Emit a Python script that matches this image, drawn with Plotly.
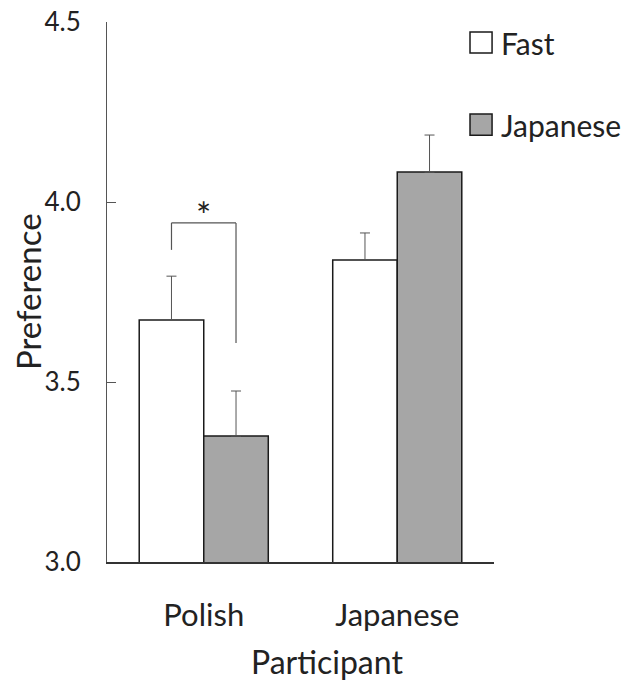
import plotly.graph_objects as go

categories = ["Polish", "Japanese"]
fast_means = [3.672, 3.839]
fast_err = [0.122, 0.075]
japanese_means = [3.350, 4.083]
japanese_err = [0.125, 0.103]
y_ticks = [3.0, 3.5, 4.0, 4.5]
y_tick_labels = ["3.0", "3.5", "4.0", "4.5"]
series_names = ["Fast", "Japanese"]
series_colors = ["white", "#a6a6a6"]

# significance bracket (category index units on x, data units on y)
bracket_x = [-0.1667, -0.1667, 0.1667, 0.1667]
bracket_y = [3.867, 3.942, 3.942, 3.608]
star_x, star_y, star_text = 0.0, 3.896, "*"

FONT = "Lato"
TXT = "#222222"

fig = go.Figure()
for name, means, errs, col in [(series_names[0], fast_means, fast_err, series_colors[0]),
                               (series_names[1], japanese_means, japanese_err, series_colors[1])]:
    fig.add_trace(go.Bar(
        name=name, x=categories, y=means, showlegend=False,
        marker=dict(color=col, line=dict(color="#1a1a1a", width=1.5)),
        error_y=dict(type="data", array=errs, arrayminus=[0, 0], symmetric=False,
                     color="#555555", thickness=1, width=5),
    ))

for i in range(len(bracket_x) - 1):
    fig.add_shape(type="line", xref="x", yref="y",
                  x0=bracket_x[i], y0=bracket_y[i], x1=bracket_x[i + 1], y1=bracket_y[i + 1],
                  line=dict(color="#555555", width=1.2))

fig.add_annotation(x=star_x, y=star_y, xref="x", yref="y", text=star_text,
                   showarrow=False, yanchor="bottom",
                   font=dict(family=FONT, size=36, color=TXT))

# legend (paper coordinates)
leg_y = [0.962, 0.810]
for name, col, yc in zip(series_names, series_colors, leg_y):
    fig.add_shape(type="rect", xref="paper", yref="paper",
                  x0=0.938, x1=0.995, y0=yc - 0.0195, y1=yc + 0.0195,
                  fillcolor=col, line=dict(color="#1a1a1a", width=1.5))
    fig.add_annotation(x=1.014, y=yc, xref="paper", yref="paper", text=name,
                       showarrow=False, xanchor="left", yanchor="middle",
                       font=dict(family=FONT, size=30, color=TXT))

fig.add_annotation(x=0.568, y=-0.185, xref="paper", yref="paper", text="Participant",
                   showarrow=False, xanchor="center", yanchor="middle",
                   font=dict(family=FONT, size=32, color=TXT))
fig.add_annotation(x=-0.204, y=0.5, xref="paper", yref="paper", text="Preference",
                   showarrow=False, textangle=-90, xanchor="center", yanchor="middle",
                   font=dict(family=FONT, size=33, color=TXT))

fig.update_layout(
    width=635, height=681,
    margin=dict(l=107, r=141, t=22, b=119, autoexpand=False),
    paper_bgcolor="white", plot_bgcolor="white",
    barmode="group", bargap=0.333, bargroupgap=0,
    font=dict(family=FONT, size=24, color=TXT),
    showlegend=False,
)
fig.update_yaxes(range=[3.0, 4.5], tickvals=y_ticks, ticktext=y_tick_labels,
                 showline=True, linecolor="#555555", linewidth=1,
                 ticks="inside", ticklen=9, tickcolor="#555555", tickwidth=1,
                 showgrid=False, zeroline=False, ticklabelstandoff=20,
                 ticklabeloverflow="allow",
                 tickfont=dict(family=FONT, size=26, color=TXT))
fig.update_xaxes(showline=True, linecolor="#333333", linewidth=1.5, ticks="",
                 showgrid=False, ticklabelstandoff=25,
                 tickfont=dict(family=FONT, size=31, color=TXT))

fig.write_html("out.html", config={"displayModeBar": False},
               post_script="document.body.style.margin='0';document.body.style.overflow='hidden';")
